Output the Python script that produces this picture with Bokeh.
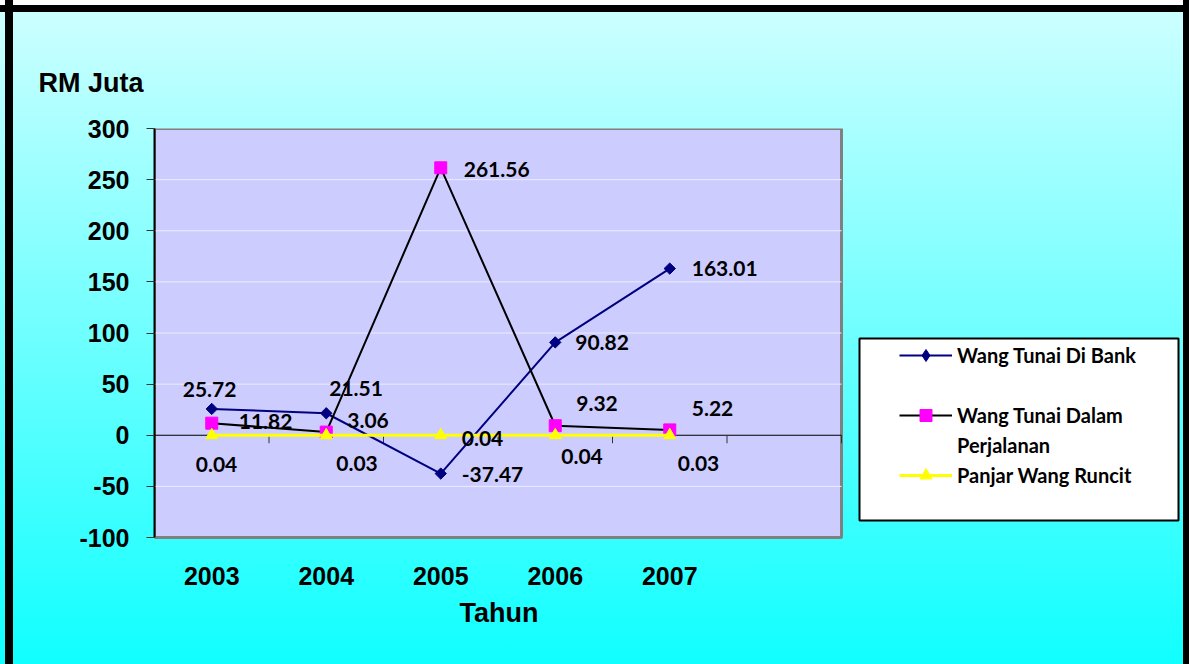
import numpy as np
from bokeh.plotting import figure
from bokeh.models import (Range1d, FixedTicker, Title, Legend, LegendItem,
                          BoxAnnotation, ColumnDataSource)
from bokeh.core.properties import value
from bokeh.embed import file_html
from bokeh.resources import INLINE

# ---------------- data ----------------
years = ["2003", "2004", "2005", "2006", "2007"]
wang_tunai_di_bank = [25.72, 21.51, -37.47, 90.82, 163.01]
wang_tunai_dalam_perjalanan = [11.82, 3.06, 261.56, 9.32, 5.22]
panjar_wang_runcit = [0.04, 0.03, 0.04, 0.04, 0.03]
y_ticks = [-100, -50, 0, 50, 100, 150, 200, 250, 300]
y_tick_labels = ["-100", "-50", "0", "50", "100", "150", "200", "250", "300"]

# label offsets in screen pixels (left edge / vertical centre relative to point)
bank_dx = [-29, 3, 21, 20, 22]
bank_dy = [-19, -25, 1, 0, 0]
perj_dx = [27, 21, 23, 21, 22]
perj_dy = [-2, -12, 2, -22, -21]
panj_dx = [-16, 10, 21, 6, 8]
panj_dy = [29, 28, 3, 21, 28]

xpos = np.arange(len(years)) + 0.5
n_slots = len(years) + 1

FONT = "Liberation Sans"
LFONT = "Lato"

# layout (pixels)
W, H = 1189, 664
PLOT_L, PLOT_R, PLOT_T, PLOT_B = 154, 841, 128, 537
FRAME_R, FRAME_B = 1183, 540
px_per_x = (PLOT_R - PLOT_L) / n_slots
px_per_y = (PLOT_B - PLOT_T) / (y_ticks[-1] - y_ticks[0])
x_end = n_slots + (FRAME_R - PLOT_R) / px_per_x
y_start = y_ticks[0] - (FRAME_B - PLOT_B) / px_per_y

p = figure(width=W, height=H,
           x_range=Range1d(0, x_end), y_range=Range1d(y_start, y_ticks[-1]),
           output_backend="svg", toolbar_location=None,
           min_border_left=PLOT_L, min_border_right=W - FRAME_R,
           min_border_top=PLOT_T, min_border_bottom=H - FRAME_B,
           background_fill_color=None, border_fill_color=None,
           outline_line_color=None,
           styles={
               "background": (
                   "linear-gradient(to right, rgba(0,0,0,0) 0px, rgba(0,0,0,0) 5px, #000 5px, #000 13px, "
                   "rgba(0,0,0,0) 13px, rgba(0,0,0,0) 1183px, #000 1183px), "
                   "linear-gradient(to bottom, #FFFFFF 0px, #FFFFFF 5px, #000 5px, #000 12px, "
                   "#CCFFFF 12px, #10FFFF 100%)"),
           })

# ---- plot area ----
p.quad(left=0, right=n_slots, bottom=y_ticks[0], top=y_ticks[-1],
       fill_color="#CCCCFF", line_color="#808080", line_width=3)
inner = [t for t in y_ticks[1:-1] if t != 0]
p.segment(x0=np.zeros(len(inner)), y0=inner, x1=np.full(len(inner), n_slots), y1=inner,
          line_color="#ECECFF", line_width=1)
p.segment(x0=[0], y0=[0], x1=[n_slots], y1=[0], line_color="black", line_width=1)
bounds = np.arange(1, n_slots + 1)
p.segment(x0=bounds, y0=np.zeros(len(bounds)), x1=bounds,
          y1=np.full(len(bounds), -8 / px_per_y), line_color="#333333", line_width=1)

# ---- axes ----
p.xgrid.visible = False
p.ygrid.visible = False

p.yaxis.ticker = FixedTicker(ticks=y_ticks)
p.yaxis.bounds = (y_ticks[0], y_ticks[-1])
p.yaxis.major_label_overrides = {t: s for t, s in zip(y_ticks, y_tick_labels)}
p.yaxis.axis_line_color = "black"
p.yaxis.axis_line_width = 2
p.yaxis.major_tick_out = 8
p.yaxis.major_tick_in = 0
p.yaxis.major_tick_line_color = "#333333"
p.yaxis.minor_tick_line_color = None
p.yaxis.major_label_standoff = 17
p.yaxis.major_label_text_font = FONT
p.yaxis.major_label_text_font_style = "bold"
p.yaxis.major_label_text_font_size = "25px"
p.yaxis.major_label_text_color = "black"

p.xaxis.ticker = FixedTicker(ticks=list(xpos))
p.xaxis.major_label_overrides = {float(x): y for x, y in zip(xpos, years)}
p.xaxis.axis_line_color = None
p.xaxis.major_tick_line_color = None
p.xaxis.minor_tick_line_color = None
p.xaxis.major_label_standoff = 20
p.xaxis.major_label_text_font = FONT
p.xaxis.major_label_text_font_style = "bold"
p.xaxis.major_label_text_font_size = "25px"
p.xaxis.major_label_text_color = "black"

# "Tahun" axis title, centred under the plot area (not the full frame)
p.add_layout(Title(text="Tahun", align="left", offset=305, standoff=16,
                   text_font=FONT, text_font_style="bold", text_font_size="27px",
                   text_color="black"), "below")

# "RM Juta" unit title above the y axis
p.title.text = "RM Juta"
p.title.align = "left"
p.title.offset = 38 - PLOT_L
p.title.standoff = 62
p.title.text_font = FONT
p.title.text_font_style = "bold"
p.title.text_font_size = "27px"
p.title.text_color = "black"

# ---- series ----
l1 = p.line(xpos, wang_tunai_di_bank, line_color="#000080", line_width=2)
s1 = p.scatter(xpos, wang_tunai_di_bank, marker="square", angle=np.pi / 4, size=8,
               fill_color="#000080", line_color="#000080")
l2 = p.line(xpos, wang_tunai_dalam_perjalanan, line_color="black", line_width=2)
s2 = p.scatter(xpos, wang_tunai_dalam_perjalanan, marker="square", size=12,
               fill_color="#FF00FF", line_color="#FF00FF")
l3 = p.line(xpos, panjar_wang_runcit, line_color="#FFFF00", line_width=3)
s3 = p.scatter(xpos, panjar_wang_runcit, marker="triangle", size=12,
               fill_color="#FFFF00", line_color="#FFFF00")
blank = p.line([], [], line_alpha=0)
# legend key for the diamond marker (a single non-drawable point)
s1_key = p.scatter([np.nan], [np.nan], marker="diamond", size=14,
                   fill_color="#000080", line_color="#000080")

# ---- data labels ----
def add_labels(vals, dx, dy):
    src = ColumnDataSource(dict(x=xpos, y=vals, t=[f"{v:.2f}" for v in vals], dx=dx, dy=dy))
    p.text(x="x", y="y", text="t", x_offset="dx", y_offset="dy", source=src,
           text_font=value(LFONT), text_font_style="bold", text_font_size="21px",
           text_align="left", text_baseline="middle", text_color="black")

add_labels(wang_tunai_di_bank, bank_dx, bank_dy)
add_labels(wang_tunai_dalam_perjalanan, perj_dx, perj_dy)
add_labels(panjar_wang_runcit, panj_dx, panj_dy)

# ---- legend ----
box = BoxAnnotation(left=859 - PLOT_L, right=1178 - PLOT_L,
                    top=FRAME_B - 338, bottom=FRAME_B - 520,
                    left_units="screen", right_units="screen",
                    top_units="screen", bottom_units="screen",
                    fill_color="white", fill_alpha=1,
                    line_color="black", line_alpha=1, line_width=2)
p.add_layout(box)

legend = Legend(items=[
    LegendItem(label="Wang Tunai Di Bank", renderers=[l1, s1_key]),
    LegendItem(label=" ", renderers=[blank]),
    LegendItem(label="Wang Tunai Dalam", renderers=[l2, s2]),
    LegendItem(label="Perjalanan", renderers=[blank]),
    LegendItem(label="Panjar Wang Runcit", renderers=[l3, s3]),
], location=(899 - PLOT_L, FRAME_B - 490), padding=0, margin=0, spacing=0,
    glyph_width=53, glyph_height=30, label_height=30, label_standoff=5,
    border_line_color=None, background_fill_alpha=0,
    label_text_font=LFONT, label_text_font_style="bold", label_text_font_size="20px",
    label_text_color="black")
p.add_layout(legend)

open("out.html", "w").write(file_html(p, INLINE))
